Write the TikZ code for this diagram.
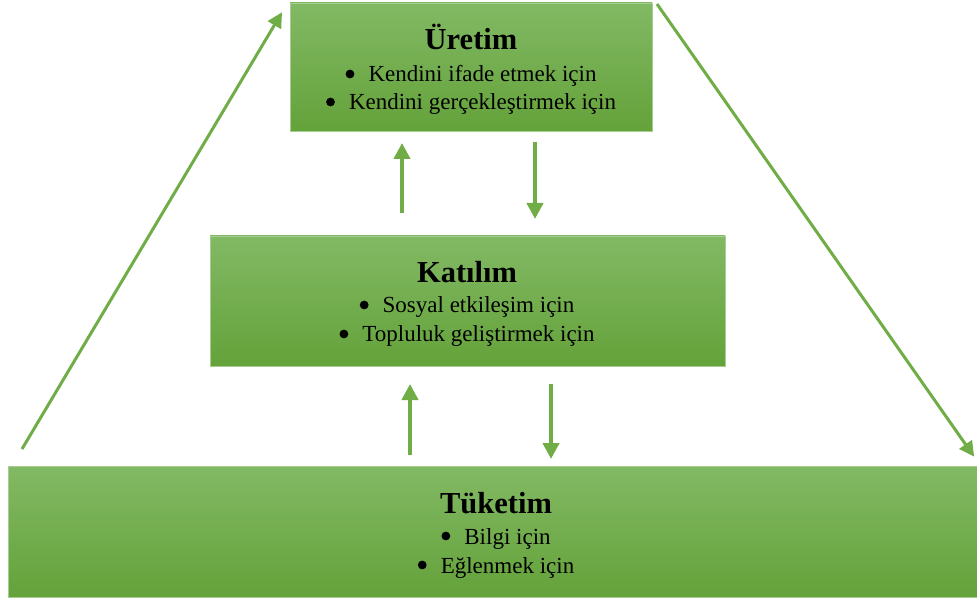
\documentclass[tikz,border=0pt]{standalone}
\usepackage{fontspec}
\setmainfont{Liberation Serif}
\usetikzlibrary{arrows.meta}
\definecolor{gtop}{HTML}{82B964}
\definecolor{gbot}{HTML}{64A23A}
\definecolor{arrowgreen}{HTML}{70AD47}
\tikzset{
  levelbox/.style={rectangle, inner sep=0pt, top color=gtop, bottom color=gbot, draw=gtop!70!white, line width=0.6pt},
  heading/.style={anchor=base, font=\fontsize{30.5}{34}\selectfont\bfseries, inner sep=0pt},
  item/.style={anchor=base, font=\fontsize{23}{26}\selectfont, inner sep=0pt},
  flow/.style={draw=arrowgreen, line width=4pt, -{Triangle[length=16pt,width=16pt]}, shorten >=-2pt},
  side/.style={draw=arrowgreen, line width=3pt, -{Triangle[length=15pt,width=15pt]}, shorten >=-2pt}
}
% round list bullet followed by the gap before the item text
\newcommand{\bul}{\makebox[23pt][l]{\tikz[baseline=0pt]{\useasboundingbox (0pt,0pt) rectangle (9pt,1pt); \fill[black] (4.5pt,8pt) circle[radius=4.4pt];}}}
\begin{document}
\begin{tikzpicture}[x=1pt,y=-1pt]
\useasboundingbox (0,0) rectangle (977,601);
% three levels
\node[levelbox, minimum width=362pt, minimum height=128pt] (uretim) at (471,67) {};
\node[levelbox, minimum width=515pt, minimum height=130pt] (katilim) at (467.5,301) {};
\node[levelbox, minimum width=969pt, minimum height=131pt] (tuketim) at (492.5,531.5) {};
% texts
\node[heading] (t1) at (471,50) {Üretim};
\node[item] (t1a) at (471,82) {\bul Kendini ifade etmek için};
\node[item] (t1b) at (471,110) {\bul Kendini gerçekleştirmek için};
\node[heading] (t2) at (467,283) {Katılım};
\node[item] (t2a) at (467,313) {\bul Sosyal etkileşim için};
\node[item] (t2b) at (467,342) {\bul Topluluk geliştirmek için};
\node[heading] (t3) at (496,513) {Tüketim};
\node[item] (t3a) at (496,544) {\bul Bilgi için};
\node[item] (t3b) at (496,573) {\bul Eğlenmek için};
% arrow end points
\coordinate (u1s) at (402,213); \coordinate (u1e) at (402,145);
\coordinate (d1s) at (535,142); \coordinate (d1e) at (535,217);
\coordinate (u2s) at (410,455); \coordinate (u2e) at (410,386);
\coordinate (d2s) at (551,384); \coordinate (d2e) at (551,457);
\coordinate (ls) at (22,449); \coordinate (le) at (281,14);
\coordinate (rs) at (657,4); \coordinate (re) at (973,455);
% arrows
\draw[flow] (u1s) -- (u1e);
\draw[flow] (d1s) -- (d1e);
\draw[flow] (u2s) -- (u2e);
\draw[flow] (d2s) -- (d2e);
\draw[side] (ls) -- (le);
\draw[side] (rs) -- (re);
\end{tikzpicture}
\end{document}
